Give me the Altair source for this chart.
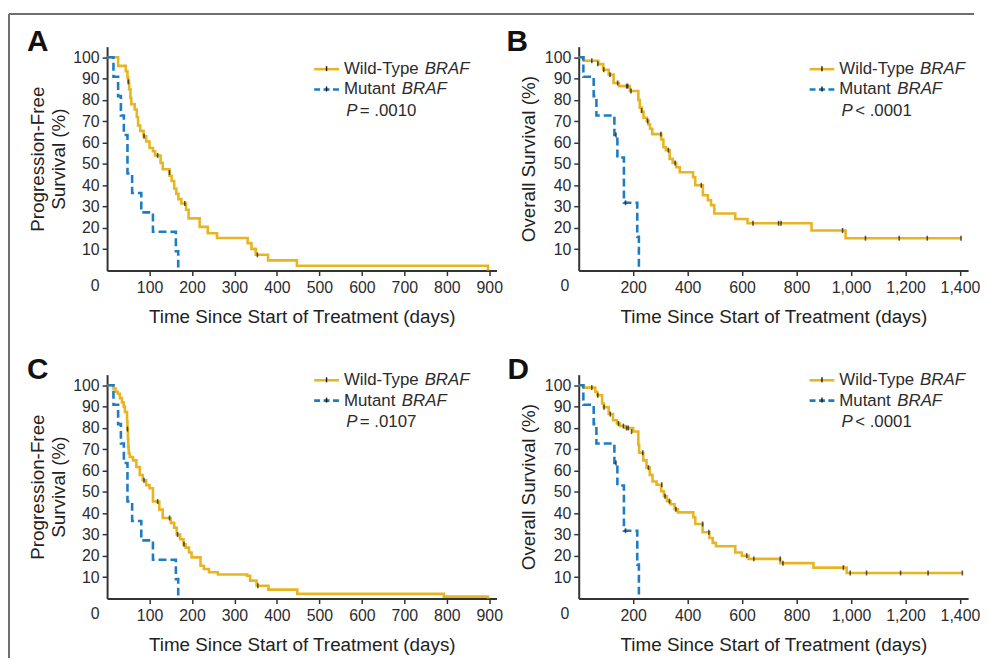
import altair as alt
import pandas as pd

# ---------------- data ----------------
# Panel A: progression-free survival (set 1)
A_WT_T = [0, 26, 44, 48, 50, 52, 55, 57, 65, 70, 73, 78, 86, 92, 100, 108, 113, 126, 131, 147,
          152, 158, 163, 168, 175, 186, 192, 218, 237, 259, 331, 340, 350, 379, 447, 897]
A_WT_S = [100, 96, 93.5, 90.5, 88.5, 85, 81, 78, 75.5, 72, 68, 65.5, 63, 60.5, 57.5, 56, 54, 50.5, 47.5, 44.5,
          42, 38.5, 36, 33.5, 31.5, 28.5, 24.5, 20.5, 17.5, 15.3, 12.8, 10.2, 7.4, 4.8, 2.3, 0]
A_WT_CT = [50, 87, 119, 147, 183, 354]
A_WT_CS = [88.5, 63, 54, 46, 31.5, 7.4]
A_MU_T = [0, 15, 26, 32.5, 39.5, 48, 59, 80.5, 108, 162, 167.5]
A_MU_S = [100, 90.9, 81.8, 72.7, 63.6, 45.5, 36.4, 27.3, 18.2, 9.1, 0]
A_MU_CT = []
A_MU_CS = []

# Panel B: overall survival (set 1)
B_WT_T = [0, 19, 72, 90, 110, 128, 148, 188, 219, 224, 232, 238, 250, 256, 262, 270, 303, 311, 320, 334,
          345, 358, 371, 420, 428, 456, 474, 486, 498, 575, 620, 855, 980, 1404]
B_WT_S = [100, 98.4, 96.8, 94.2, 91.9, 88, 86.5, 84.2, 80, 76.4, 74.5, 71.7, 70.2, 68.5, 66.5, 64, 61.5, 57.8, 56.5, 52.4,
          50.5, 48.5, 46.1, 43.8, 40, 35.3, 33, 30.7, 26.8, 24.2, 22.2, 18.8, 15.2, 15.2]
B_WT_CT = [48, 70, 92, 115, 143, 176, 180, 192, 231, 253, 302, 329, 354, 450, 640, 734, 743, 969, 1053, 1177, 1280, 1404]
B_WT_CS = [98.4, 97, 94.2, 91.9, 88, 86.5, 86.5, 84.2, 75, 70.2, 64, 56.5, 50.5, 40, 22.2, 22.2, 22.2, 18.8, 15.2, 15.2, 15.2, 15.2]
B_MU_T = [0, 17, 55, 65, 131, 142, 166, 215, 221]
B_MU_S = [100, 90.9, 81.8, 72.7, 63.6, 53, 31.8, 15.9, 0]
B_MU_CT = [137, 172]
B_MU_CS = [63.6, 31.8]

# Panel C: progression-free survival (set 2)
C_WT_T = [0, 15, 20, 25, 30, 35, 39, 42, 47, 48, 49, 50, 51, 53.5, 61, 69, 77, 84, 92, 100, 108, 123, 131, 150,
          158, 164, 172, 180, 185, 193, 199, 220, 228, 240, 261, 330, 337, 352, 380, 448, 793, 897]
C_WT_S = [100, 98.5, 97, 96, 94, 92, 90, 87.5, 83, 79.5, 75, 71, 68, 66.4, 64.8, 61.7, 57.9, 55.5, 53.2, 51.7, 45.5, 41.7, 37.8, 35.5,
          33.2, 30, 27.8, 25.5, 23.9, 21.6, 19.3, 15.4, 13.9, 12.3, 11.3, 10.7, 8.4, 6, 4.2, 2.2, 0.9, 0]
C_WT_CT = [48, 87, 119, 147, 166, 181, 355]
C_WT_CS = [79.5, 55.5, 45.5, 37.8, 30, 25.5, 6]
C_MU_T = [0, 15, 26, 32.5, 39.5, 48, 59, 80.5, 108, 162, 167.5]
C_MU_S = [100, 90.9, 81.8, 72.7, 63.6, 45.5, 36.4, 27.3, 18.2, 9.1, 0]
C_MU_CT = []
C_MU_CS = []

# Panel D: overall survival (set 2)
D_WT_T = [0, 19, 61, 68, 86, 92, 110, 126, 140, 151, 170, 200, 219, 222, 237, 249, 261, 271, 286, 303,
          313, 324, 337, 352, 364, 421, 428, 455, 480, 492, 504, 575, 599, 624, 740, 862, 984, 1409]
D_WT_S = [100, 98.9, 96.9, 95.3, 91.5, 89.7, 86.5, 83.6, 82.1, 80.9, 80, 78.3, 72, 68.4, 64.8, 61.4, 58, 54.9, 53.4, 50.3,
          48, 45.7, 44.2, 41.9, 40.4, 38.1, 35, 31.1, 28.4, 26.1, 24.5, 21.6, 20.1, 18.6, 16.6, 14.5, 12, 12]
D_WT_CT = [48, 70, 93, 116, 146, 164, 176, 182, 194, 235, 256, 305, 317, 333, 357, 455, 478, 617, 643, 740, 750, 972, 997, 1057, 1182, 1283, 1409]
D_WT_CS = [98.9, 95.3, 89.7, 86.5, 82.1, 80.9, 80, 80, 78.3, 68.4, 61.4, 53.4, 48, 45.7, 41.9, 35, 31.1, 20.1, 18.6, 18.6, 16.6, 14.5, 12, 12, 12, 12, 12]
D_MU_T = [0, 17, 55, 65, 131, 142, 166, 215, 221]
D_MU_S = [100, 90.9, 81.8, 72.7, 63.6, 53, 31.8, 15.9, 0]
D_MU_CT = [137, 172]
D_MU_CS = [63.6, 31.8]

Y_TICKS = [10, 20, 30, 40, 50, 60, 70, 80, 90, 100]
X_TICKS_PFS = [100, 200, 300, 400, 500, 600, 700, 800, 900]
X_TICKS_OS = [200, 400, 600, 800, 1000, 1200, 1400]
X_TITLE = "Time Since Start of Treatment (days)"
PFS_TITLE = ["Progression-Free", "Survival (%)"]
OS_TITLE = "Overall Survival (%)"
LEG_WT = "Wild-Type "
LEG_MU = "Mutant "
LEG_GENE = "BRAF"

YELLOW = "#E7B522"
BLUE = "#1C7DC4"
INK = "#2b2b2b"
FONT = "Liberation Sans"

W, H = 393, 226
LFS = 17  # legend font size


def panel(wt_t, wt_s, wt_ct, wt_cs, mu_t, mu_s, mu_ct, mu_cs, xmax, xticks, xfmt, ytitle, ytpad,
          letter, letter_dx, p_op, p_val, leg_x, leg_y, zero_dx, frame=False):
    wt = pd.DataFrame({"t": wt_t, "s": wt_s})
    mu = pd.DataFrame({"t": mu_t, "s": mu_s})
    wtc = pd.DataFrame({"t": wt_ct, "s": wt_cs})
    muc = pd.DataFrame({"t": mu_ct, "s": mu_cs})
    one = pd.DataFrame({"k": [0]})

    x = alt.X("t:Q", scale=alt.Scale(domain=[0, xmax], nice=False, zero=True),
              axis=alt.Axis(values=xticks, format=xfmt, title=X_TITLE, titlePadding=12,
                            labelOverlap=False, labelFlush=False))
    y = alt.Y("s:Q", scale=alt.Scale(domain=[0, 105], nice=False),
              axis=alt.Axis(values=Y_TICKS, format="d", title=ytitle, titlePadding=ytpad,
                            labelOverlap=False, labelFlush=False, labelSeparation=0))

    wt_line = alt.Chart(wt).mark_line(interpolate="step-after", color=YELLOW, strokeWidth=2.6).encode(x=x, y=y)
    mu_line = alt.Chart(mu).mark_line(interpolate="step-after", color=BLUE, strokeWidth=2.6,
                                      strokeDash=[8, 4]).encode(x=x, y=y)
    layers = [wt_line, mu_line]
    cens_style = dict(orient="vertical", size=5, thickness=1.6, color="#111")
    if len(wt_ct):
        layers.append(alt.Chart(wtc).mark_tick(**cens_style).encode(x=x, y=y))
    if len(mu_ct):
        layers.append(alt.Chart(muc).mark_tick(**cens_style).encode(x=x, y=y))

    # legend (drawn by hand, as in the figure)
    lx0, lx1 = leg_x, leg_x + 25
    r1, r2, r3 = leg_y, leg_y + 20.5, leg_y + 42.5
    base = alt.Chart(one)
    txt = dict(align="left", baseline="middle", font=FONT, fontSize=LFS, color=INK)
    layers += [
        base.mark_rule(color=YELLOW, strokeWidth=2.6).encode(x=alt.value(lx0), x2=alt.value(lx1), y=alt.value(r1)),
        base.mark_rule(color="#111", strokeWidth=1.4).encode(x=alt.value(lx0 + 12.5), y=alt.value(r1 - 3), y2=alt.value(r1 + 2)),
        base.mark_rule(color=BLUE, strokeWidth=2.6, strokeDash=[6, 3.5]).encode(x=alt.value(lx0), x2=alt.value(lx1), y=alt.value(r2)),
        base.mark_rule(color="#111", strokeWidth=1.4).encode(x=alt.value(lx0 + 12.5), y=alt.value(r2 - 3), y2=alt.value(r2 + 2)),
        base.mark_text(text=LEG_WT, **txt).encode(x=alt.value(lx0 + 30), y=alt.value(r1)),
        base.mark_text(text=LEG_GENE, fontStyle="italic", **txt).encode(x=alt.value(lx0 + 111.5), y=alt.value(r1)),
        base.mark_text(text=LEG_MU, **txt).encode(x=alt.value(lx0 + 30), y=alt.value(r2)),
        base.mark_text(text=LEG_GENE, fontStyle="italic", **txt).encode(x=alt.value(lx0 + 88.5), y=alt.value(r2)),
        base.mark_text(text="P", fontStyle="italic", **txt).encode(x=alt.value(lx0 + 32.3), y=alt.value(r3)),
        base.mark_text(text=p_op + " " + p_val, **txt).encode(x=alt.value(lx0 + 46), y=alt.value(r3)),
        base.mark_text(text=letter, align="center", baseline="middle", font=FONT, fontSize=30, fontWeight="bold", color="#111")
            .encode(x=alt.value(letter_dx), y=alt.value(-5)),
        base.mark_text(text="0", align="center", baseline="middle", font=FONT, fontSize=16, color=INK)
            .encode(x=alt.value(zero_dx), y=alt.value(H + 16)),
    ]
    if frame:
        layers += [
            base.mark_rule(color="#6e6e6e", strokeWidth=2).encode(x=alt.value(-99), x2=alt.value(875), y=alt.value(-33)),
            base.mark_rule(color="#6e6e6e", strokeWidth=2).encode(x=alt.value(-99), y=alt.value(-33), y2=alt.value(617)),
        ]
    return alt.layer(*layers).properties(width=W, height=H)


pA = panel(A_WT_T, A_WT_S, A_WT_CT, A_WT_CS, A_MU_T, A_MU_S, A_MU_CT, A_MU_CS, 917, X_TICKS_PFS, "d",
           PFS_TITLE, 4, "A", -70, "=", ".0010", 209, 22.7, -12, frame=True)
pB = panel(B_WT_T, B_WT_S, B_WT_CT, B_WT_CS, B_MU_T, B_MU_S, B_MU_CT, B_MU_CS, 1430, X_TICKS_OS, ",d",
           OS_TITLE, 6, "B", -62, "<", ".0001", 233, 22.7, -14)
pC = panel(C_WT_T, C_WT_S, C_WT_CT, C_WT_CS, C_MU_T, C_MU_S, C_MU_CT, C_MU_CS, 917, X_TICKS_PFS, "d",
           PFS_TITLE, 4, "C", -70, "=", ".0107", 209, 5.7, -12)
pD = panel(D_WT_T, D_WT_S, D_WT_CT, D_WT_CS, D_MU_T, D_MU_S, D_MU_CT, D_MU_CS, 1430, X_TICKS_OS, ",d",
           OS_TITLE, 6, "D", -61, "<", ".0001", 233, 5.7, -14)

chart = alt.concat(pA, pB, pC, pD, columns=2, spacing={"row": 105, "column": 83}, bounds="flush").properties(
    padding={"left": 0, "top": 2, "right": 0, "bottom": 0}
).configure_view(stroke=None).configure_axis(
    grid=False,
    domainColor="#333", domainWidth=2,
    tickColor="#333", tickWidth=1.5, tickSize=5,
    labelFont=FONT, labelFontSize=16, labelColor=INK, labelPadding=3,
    titleFont=FONT, titleFontSize=19, titleFontWeight="normal", titleColor="#222",
    labelOverlap=False,
).configure_axisX(labelPadding=4)

chart.save("out.html", embed_options={"renderer": "svg", "actions": False})
